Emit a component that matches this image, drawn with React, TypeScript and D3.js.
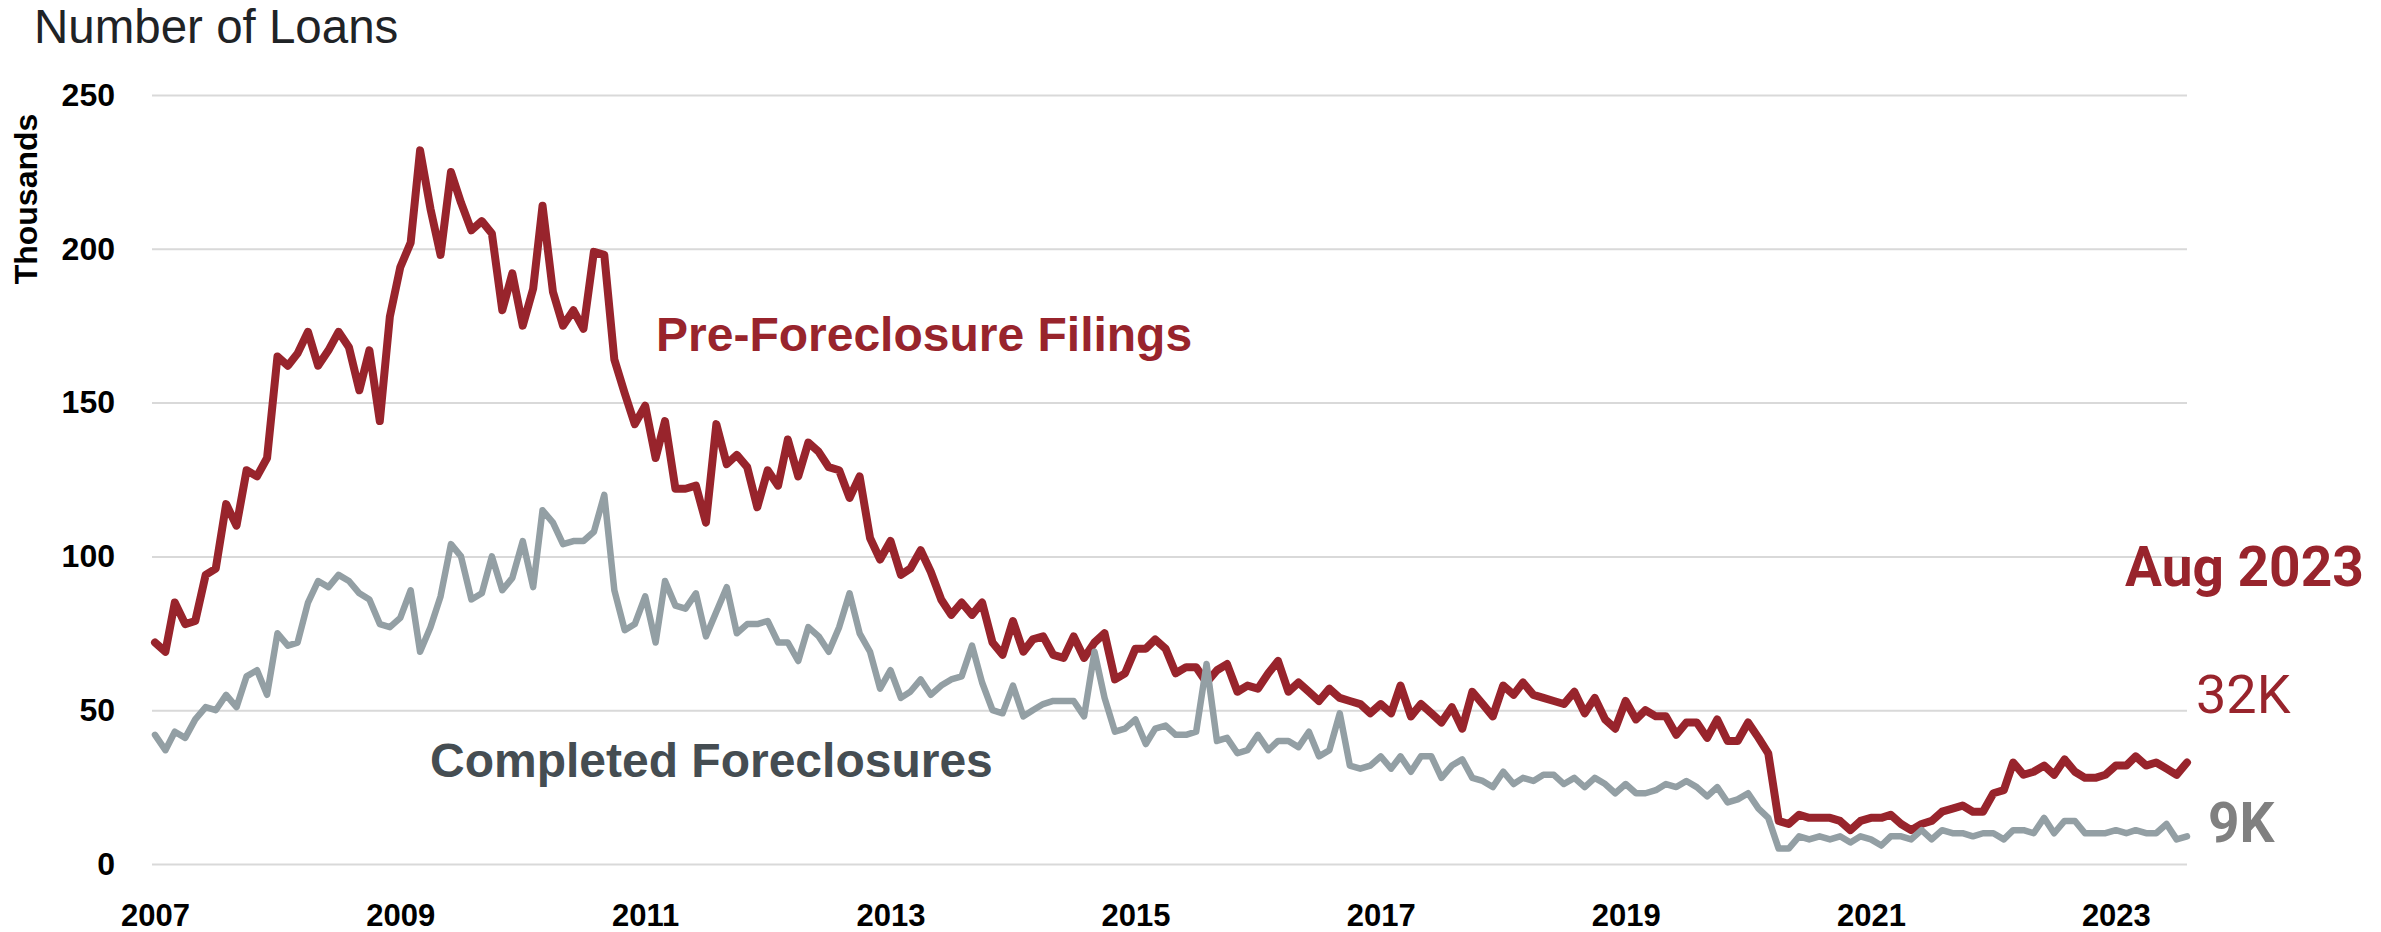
import React, { useEffect, useRef } from "react";
import * as d3 from "d3";

// monthly, Jan 2007 .. Aug 2023, thousands of loans
const startMonth = new Date(2007, 0, 1);

const preForeclosure = [
  72, 69, 85, 78, 79, 94, 96, 117, 110, 128, 126, 132, // 2007
  165, 162, 166, 173, 162, 167, 173, 168, 154, 167, 144, 178, // 2008
  194, 202, 232, 213, 198, 225, 215, 206, 209, 205, 180, 192, // 2009
  175, 187, 214, 186, 175, 180, 174, 199, 198, 164, 153, 143, // 2010
  149, 132, 144, 122, 122, 123, 111, 143, 130, 133, 129, 116, // 2011
  128, 123, 138, 126, 137, 134, 129, 128, 119, 126, 106, 99, // 2012
  105, 94, 96, 102, 95, 86, 81, 85, 81, 85, 72, 68, // 2013
  79, 69, 73, 74, 68, 67, 74, 67, 72, 75, 60, 62, // 2014
  70, 70, 73, 70, 62, 64, 64, 59, 63, 65, 56, 58, // 2015
  57, 62, 66, 56, 59, 56, 53, 57, 54, 53, 52, 49, // 2016
  52, 49, 58, 48, 52, 49, 46, 51, 44, 56, 52, 48, // 2017
  58, 55, 59, 55, 54, 53, 52, 56, 49, 54, 47, 44, // 2018
  53, 47, 50, 48, 48, 42, 46, 46, 41, 47, 40, 40, // 2019
  46, 41, 36, 14, 13, 16, 15, 15, 15, 14, 11, 14, // 2020
  15, 15, 16, 13, 11, 13, 14, 17, 18, 19, 17, 17, // 2021
  23, 24, 33, 29, 30, 32, 29, 34, 30, 28, 28, 29, // 2022
  32, 32, 35, 32, 33, 31, 29, 33, // 2023
];

const completed = [
  42, 37, 43, 41, 47, 51, 50, 55, 51, 61, 63, 55, // 2007
  75, 71, 72, 85, 92, 90, 94, 92, 88, 86, 78, 77, // 2008
  80, 89, 69, 77, 87, 104, 100, 86, 88, 100, 89, 93, // 2009
  105, 90, 115, 111, 104, 105, 105, 108, 120, 89, 76, 78, // 2010
  87, 72, 92, 84, 83, 88, 74, 82, 90, 75, 78, 78, // 2011
  79, 72, 72, 66, 77, 74, 69, 77, 88, 75, 69, 57, // 2012
  63, 54, 56, 60, 55, 58, 60, 61, 71, 59, 50, 49, // 2013
  58, 48, 50, 52, 53, 53, 53, 48, 69, 54, 43, 44, // 2014
  47, 39, 44, 45, 42, 42, 43, 65, 40, 41, 36, 37, // 2015
  42, 37, 40, 40, 38, 43, 35, 37, 49, 32, 31, 32, // 2016
  35, 31, 35, 30, 35, 35, 28, 32, 34, 28, 27, 25, // 2017
  30, 26, 28, 27, 29, 29, 26, 28, 25, 28, 26, 23, // 2018
  26, 23, 23, 24, 26, 25, 27, 25, 22, 25, 20, 21, // 2019
  23, 18, 15, 5, 5, 9, 8, 9, 8, 9, 7, 9, // 2020
  8, 6, 9, 9, 8, 11, 8, 11, 10, 10, 9, 10, // 2021
  10, 8, 11, 11, 10, 15, 10, 14, 14, 10, 10, 10, // 2022
  11, 10, 11, 10, 10, 13, 8, 9, // 2023
];

const yTicks = [0, 50, 100, 150, 200, 250];
const xTickYears = [2007, 2009, 2011, 2013, 2015, 2017, 2019, 2021, 2023];

const W = 2381;
const H = 932;
const RED = "#98242c";
const GREY = "#939fa4";
const FONT = "'Liberation Sans', Arial, sans-serif";

export default function App() {
  const ref = useRef<SVGSVGElement>(null);

  useEffect(() => {
    const svg = d3.select(ref.current);
    svg.selectAll("*").remove();

    const endMonth = d3.timeMonth.offset(startMonth, preForeclosure.length - 1);
    const x = d3.scaleTime().domain([startMonth, endMonth]).range([155, 2187]);
    const y = d3.scaleLinear().domain([0, 250]).range([864, 95]);
    const left = 152;
    const right = 2187;

    // y axis + gridlines
    const yAxis = svg
      .append("g")
      .attr("transform", `translate(${left},0)`)
      .call(
        d3
          .axisLeft(y)
          .tickValues(yTicks)
          .tickSize(-(right - left))
          .tickPadding(37)
      );
    yAxis.select(".domain").remove();
    yAxis.selectAll(".tick line").attr("stroke", "#d9d9d9").attr("stroke-width", 2);
    yAxis
      .selectAll(".tick text")
      .attr("fill", "#000")
      .style("font-family", FONT)
      .style("font-weight", "bold")
      .style("font-size", "32px");

    // x axis
    const xAxis = svg
      .append("g")
      .attr("transform", `translate(0,${y(0)})`)
      .call(
        d3
          .axisBottom(x)
          .tickValues(xTickYears.map((yr) => new Date(yr, 0, 1)))
          .tickFormat(d3.timeFormat("%Y") as any)
          .tickSize(0)
          .tickPadding(40)
      );
    xAxis.select(".domain").remove();
    xAxis
      .selectAll(".tick text")
      .attr("fill", "#000")
      .style("font-family", FONT)
      .style("font-weight", "bold")
      .style("font-size", "31px");

    const line = d3
      .line<number>()
      .x((d, i) => x(d3.timeMonth.offset(startMonth, i)))
      .y((d) => y(d));

    svg
      .append("path")
      .datum(preForeclosure)
      .attr("d", line)
      .attr("fill", "none")
      .attr("stroke", RED)
      .attr("stroke-width", 8)
      .attr("stroke-linejoin", "round")
      .attr("stroke-linecap", "round");

    svg
      .append("path")
      .datum(completed)
      .attr("d", line)
      .attr("fill", "none")
      .attr("stroke", GREY)
      .attr("stroke-width", 6.5)
      .attr("stroke-linejoin", "round")
      .attr("stroke-linecap", "round");

    // titles
    svg
      .append("text")
      .attr("x", 34)
      .attr("y", 43)
      .attr("fill", "#1f2326")
      .style("font-family", FONT)
      .style("font-size", "47.5px")
      .text("Number of Loans");

    svg
      .append("text")
      .attr("transform", "translate(37,199) rotate(-90)")
      .attr("text-anchor", "middle")
      .attr("fill", "#000")
      .style("font-family", FONT)
      .style("font-weight", "bold")
      .style("font-size", "32px")
      .text("Thousands");

    // series labels
    svg
      .append("text")
      .attr("x", 656)
      .attr("y", 351)
      .attr("fill", RED)
      .style("font-family", FONT)
      .style("font-weight", "bold")
      .style("font-size", "48px")
      .text("Pre-Foreclosure Filings");

    svg
      .append("text")
      .attr("x", 430)
      .attr("y", 777)
      .attr("fill", "#454d52")
      .style("font-family", FONT)
      .style("font-weight", "bold")
      .style("font-size", "48px")
      .text("Completed Foreclosures");

    // latest values
    svg
      .append("text")
      .attr("x", 2125)
      .attr("y", 586)
      .attr("fill", RED)
      .style("font-family", "Roboto, sans-serif")
      .style("font-weight", "bold")
      .style("font-size", "55px")
      .text("Aug 2023");

    svg
      .append("text")
      .attr("x", 2196)
      .attr("y", 713)
      .attr("fill", RED)
      .style("font-family", "Roboto, sans-serif")
      .style("font-size", "54px")
      .text("32K");

    svg
      .append("text")
      .attr("x", 2208)
      .attr("y", 842)
      .attr("fill", "#808080")
      .style("font-family", "Roboto, sans-serif")
      .style("font-weight", "bold")
      .style("font-size", "55px")
      .text("9K");
  }, []);

  return (
    <svg
      ref={ref}
      width={W}
      height={H}
      style={{ position: "absolute", left: 0, top: 0, background: "#fff" }}
    />
  );
}
